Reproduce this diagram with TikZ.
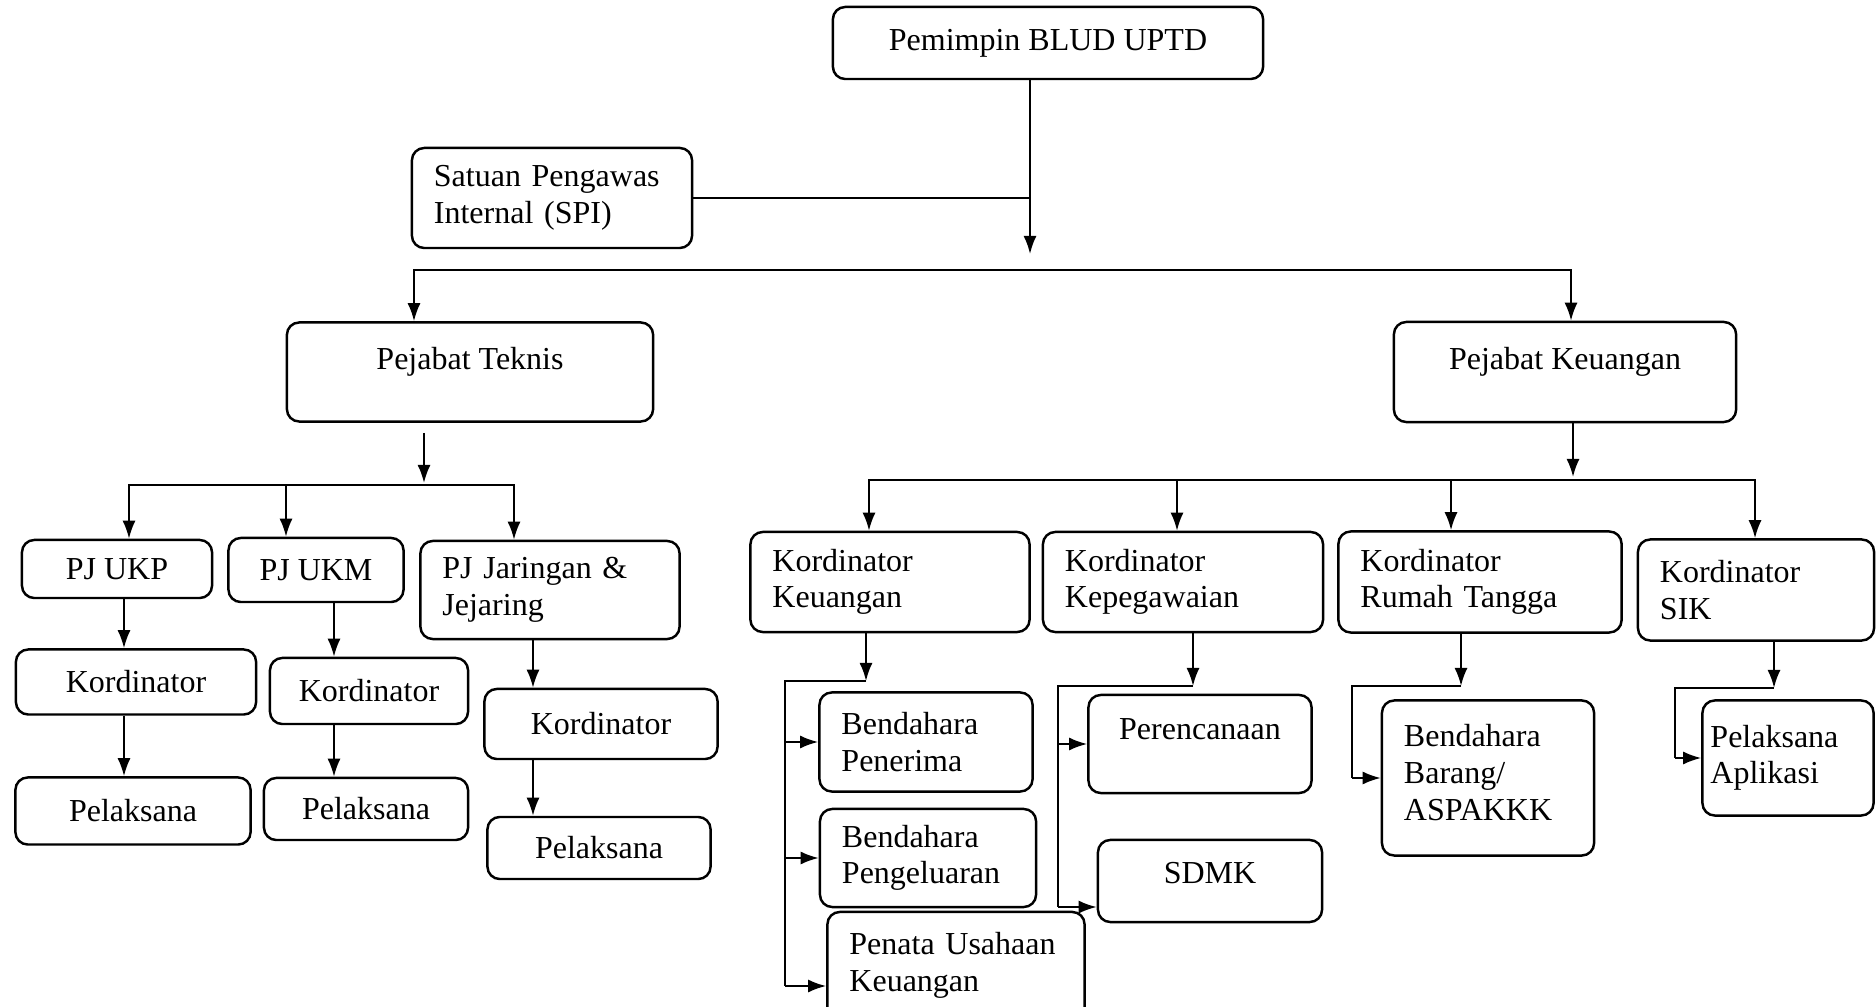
\documentclass[tikz,border=0pt]{standalone}
\usepackage{fontspec}
\setmainfont{Liberation Serif}
\usetikzlibrary{arrows.meta, positioning, calc}

\begin{document}
\begin{tikzpicture}[x=0.01cm, y=-0.01cm, >={Latex[length=1.8mm,width=1.3mm]},
  font=\fontsize{9.1}{10.4}\selectfont]
 % We define the styles for the boxes and the connectors
 \tikzset{
box/.style = {draw, rectangle, rounded corners=3.5pt, line width=0.7pt, inner sep=0pt, align=center},
lbox/.style = {box, align=left, inner xsep=0.22cm},
line/.style = {draw, line width=0.6pt},
arr/.style = {line, ->},
}
 \useasboundingbox (0,0) rectangle (1876,1007);
 \clip (0,0) rectangle (1876,1007);

 % Head of the unit and the internal supervisor
 \node [box, minimum width=4.3cm, minimum height=0.72cm] (pimp) at (1048,43) {Pemimpin BLUD UPTD};
 \node [lbox, text width=2.36cm, minimum height=1cm] (spi) at (552,198) {Satuan Pengawas\\Internal (SPI)};
 \coordinate (hub) at (1030,254);

 % The two officials
 \node [box, minimum width=3.66cm, minimum height=0.99cm, text depth=8pt] (tek) at (470,372) {Pejabat Teknis};
 \node [box, minimum width=3.42cm, minimum height=1cm, text depth=8pt] (keu) at (1565,372) {Pejabat Keuangan};
 \coordinate (topL) at (414,270);
 \coordinate (topR) at (1571,270);

 \draw [arr] (pimp.south -| hub) -- (hub);
 \draw [line] (spi.east) -- (spi.east -| hub);
 \draw [line, <->] (tek.north -| topL) -- (topL) -- (topR) -- (keu.north -| topR);

 % Technical branch
 \node [box, minimum width=1.9cm, minimum height=0.58cm] (ukp) at (117,569) {PJ UKP};
 \node [box, minimum width=1.75cm, minimum height=0.64cm] (ukm) at (316,570) {PJ UKM};
 \node [lbox, text width=2.15cm, minimum height=0.98cm] (jar) at (550,590) {PJ Jaringan \&\\Jejaring};
 \node [box, minimum width=2.4cm, minimum height=0.65cm] (kukp) at (136,682) {Kordinator};
 \node [box, minimum width=1.98cm, minimum height=0.66cm] (kukm) at (369,691) {Kordinator};
 \node [box, minimum width=2.33cm, minimum height=0.7cm] (kjar) at (601,724) {Kordinator};
 \node [box, minimum width=2.35cm, minimum height=0.67cm] (pukp) at (133,811) {Pelaksana};
 \node [box, minimum width=2.04cm, minimum height=0.62cm] (pukm) at (366,809) {Pelaksana};
 \node [box, minimum width=2.23cm, minimum height=0.62cm] (pjar) at (599,848) {Pelaksana};

 \coordinate (tekhub) at (424,483);
 \coordinate (tbL) at (129,485);
 \coordinate (tbM) at (286,485);
 \coordinate (tbR) at (514,485);
 \coordinate (colukp) at (124,0);
 \coordinate (colukm) at (334,0);
 \coordinate (coljar) at (533,0);

 \draw [arr, shorten <=1mm] (tek.south -| tekhub) -- (tekhub);
 \draw [line, <->] (ukp.north -| tbL) -- (tbL) -- (tbR) -- (jar.north -| tbR);
 \draw [arr] (tbM) -- (ukm.north -| tbM);
 \draw [arr] (ukp.south -| colukp) -- (kukp.north -| colukp);
 \draw [arr] (kukp.south -| colukp) -- (pukp.north -| colukp);
 \draw [arr] (ukm.south -| colukm) -- (kukm.north -| colukm);
 \draw [arr] (kukm.south -| colukm) -- (pukm.north -| colukm);
 \draw [arr] (jar.south -| coljar) -- (kjar.north -| coljar);
 \draw [arr] (kjar.south -| coljar) -- (pjar.north -| coljar);

 % Finance branch, coordinators
 \node [lbox, text width=2.35cm, minimum height=1cm] (kkeu) at (890,582) {Kordinator\\Keuangan};
 \node [lbox, text width=2.36cm, minimum height=1cm] (kpeg) at (1183,582) {Kordinator\\Kepegawaian};
 \node [lbox, text width=2.39cm, minimum height=1.01cm] (krt) at (1480,582) {Kordinator\\Rumah Tangga};
 \node [lbox, text width=1.92cm, minimum height=1.01cm] (ksik) at (1756,590) {Kordinator\\SIK};

 \coordinate (keuhub) at (1573,477);
 \coordinate (kbL) at (869,480);
 \coordinate (kbK) at (1177,480);
 \coordinate (kbM) at (1451,480);
 \coordinate (kbR) at (1755,480);

 \draw [arr] (keu.south -| keuhub) -- (keuhub);
 \draw [line, <->] (kkeu.north -| kbL) -- (kbL) -- (kbR) -- (ksik.north -| kbR);
 \draw [arr] (kbK) -- (kpeg.north -| kbK);
 \draw [arr] (kbM) -- (krt.north -| kbM);

 % Finance branch, staff
 \node [lbox, text width=1.69cm, minimum height=0.99cm] (bpen) at (926,742) {Bendahara\\Penerima};
 \node [lbox, text width=1.72cm, minimum height=0.98cm] (bpeng) at (928,858) {Bendahara\\Pengeluaran};
 \node [lbox, text width=2.13cm, minimum height=1.48cm, text depth=24pt] (penata) at (956,986) {Penata Usahaan\\Keuangan};
 \node [box, minimum width=2.23cm, minimum height=0.98cm, text depth=8.6pt] (renc) at (1200,744) {Perencanaan};
 \node [box, minimum width=2.24cm, minimum height=0.82cm, text depth=4.6pt] (sdmk) at (1210,881) {SDMK};
 \node [lbox, text width=1.68cm, minimum height=1.55cm, text depth=24pt] (bbar) at (1488,778) {Bendahara\\Barang/\\ASPAKKK};
 \node [lbox, inner xsep=0.08cm, text width=1.55cm, minimum height=1.15cm] (paplk) at (1788,758) {Pelaksana\\Aplikasi};

 \coordinate (kkb) at (866,681);
 \coordinate (kkL) at (785,681);
 \coordinate (kpb) at (1193,686);
 \coordinate (kpL) at (1058,686);
 \coordinate (krb) at (1461,686);
 \coordinate (krL) at (1352,686);
 \coordinate (ksb) at (1774,688);
 \coordinate (ksL) at (1675,688);

 \draw [arr] (kkeu.south -| kkb) -- (kkb);
 \draw [line] (kkb) -- (kkL) -- (kkL |- penata.west);
 \draw [arr] (kkL |- bpen.west) -- (bpen.west);
 \draw [arr] (kkL |- bpeng.west) -- (bpeng.west);
 \draw [arr] (kkL |- penata.west) -- (penata.west);

 \draw [arr] (kpeg.south -| kpb) -- (kpb);
 \draw [line] (kpb) -- (kpL) -- ([yshift=-0.26cm]kpL |- sdmk.west);
 \draw [arr] (kpL |- renc.west) -- (renc.west);
 \draw [arr] ([yshift=-0.26cm]kpL |- sdmk.west) -- ([yshift=-0.26cm]sdmk.west);

 \draw [arr] (krt.south -| krb) -- (krb);
 \draw [line] (krb) -- (krL) -- (krL |- bbar.west);
 \draw [arr] (krL |- bbar.west) -- (bbar.west);

 \draw [arr] (ksik.south -| ksb) -- (ksb);
 \draw [line] (ksb) -- (ksL) -- (ksL |- paplk.west);
 \draw [arr] (ksL |- paplk.west) -- (paplk.west);

\end{tikzpicture}
\end{document}
